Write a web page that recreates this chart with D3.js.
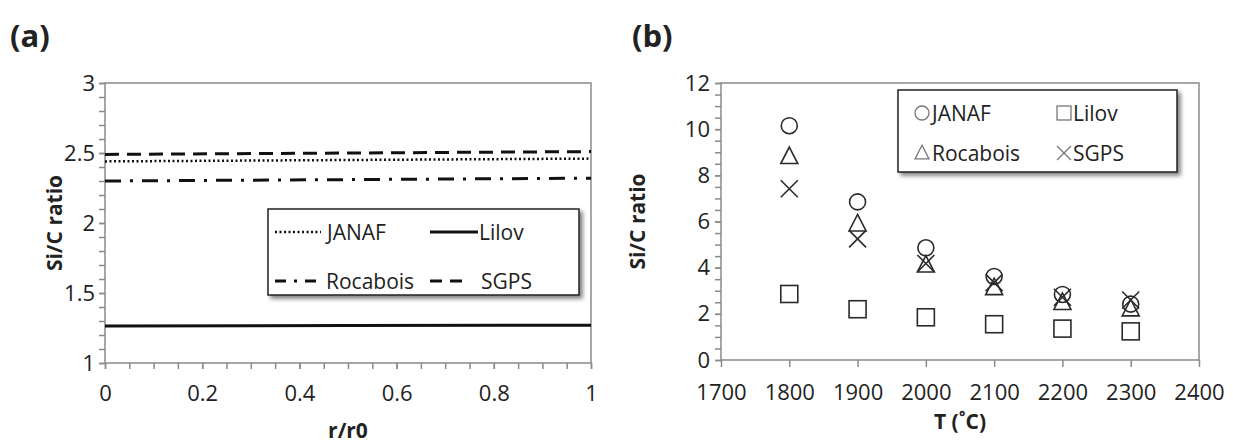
<!DOCTYPE html>
<html><head><meta charset="utf-8">
<script src="https://cdn.jsdelivr.net/npm/d3@7"></script>
<style>
body{margin:0;background:#fff;}
text{font-family:"Open Sans",sans-serif;fill:#222;}
</style></head>
<body>
<svg id="c" width="1233" height="445"></svg>
<script>
// ---- Data panel (a)
const rPos = [0, 0.5, 1];
const janafA = [2.44, 2.45, 2.46];
const lilovA = [1.264, 1.267, 1.27];
const rocaboisA = [2.30, 2.31, 2.32];
const sgpsA = [2.49, 2.50, 2.51];
const aXTicks = [0, 0.2, 0.4, 0.6, 0.8, 1];
const aYTicks = [1, 1.5, 2, 2.5, 3];
// ---- Data panel (b)
const temps = [1800, 1900, 2000, 2100, 2200, 2300];
const janafB = [10.15, 6.85, 4.86, 3.62, 2.84, 2.42];
const lilovB = [2.86, 2.2, 1.85, 1.55, 1.36, 1.24];
const rocaboisB = [8.82, 5.9, 4.12, 3.14, 2.5, 2.22];
const sgpsB = [7.42, 5.25, 4.18, 3.35, 2.72, 2.6];
const bXTicks = [1700, 1800, 1900, 2000, 2100, 2200, 2300, 2400];
const bYTicks = [0, 2, 4, 6, 8, 10, 12];

const svg = d3.select("#c");
const defs = svg.append("defs");
const f = defs.append("filter").attr("id","sh").attr("x","-10%").attr("y","-10%").attr("width","130%").attr("height","140%");
f.append("feGaussianBlur").attr("in","SourceAlpha").attr("stdDeviation",2).attr("result","b");
f.append("feOffset").attr("in","b").attr("dx",3).attr("dy",3).attr("result","o");
f.append("feComponentTransfer").attr("in","o").attr("result","o2").append("feFuncA").attr("type","linear").attr("slope",0.5);
const fm = f.append("feMerge"); fm.append("feMergeNode").attr("in","o2"); fm.append("feMergeNode").attr("in","SourceGraphic");

const axisCol = "#8a8a8a";
const lineCol = "#111";
const tickFont = "22px";
const styles = {
  janaf: {dash:"2,2.5", w:2.5},
  lilov: {dash:null, w:3},
  rocabois: {dash:"16,9,3,9", w:3},
  sgps: {dash:"14,8", w:3}
};

function styleAxis(g){
  g.select(".domain").remove();
  g.attr("font-size", null).attr("font-family", null);
  g.selectAll(".tick line").attr("stroke",axisCol).attr("stroke-width",1.5);
  g.selectAll(".tick text").style("font-size",tickFont).attr("fill","#2a2a2a");
}

// ================= Panel (a)
const A = {l:105, r:591, t:83, b:363};
const xa = d3.scaleLinear().domain([0,1]).range([A.l, A.r]);
const ya = d3.scaleLinear().domain([1,3]).range([A.b, A.t]);
const ga = svg.append("g");
ga.append("g").attr("transform",`translate(${A.l},0)`)
  .call(d3.axisLeft(ya).tickValues(d3.range(1,3.001,0.1)).tickSize(6).tickFormat(""))
  .call(styleAxis);
ga.append("g").attr("transform",`translate(0,${A.b})`)
  .call(d3.axisBottom(xa).tickValues(d3.range(0,1.001,0.05)).tickSize(6).tickFormat(""))
  .call(styleAxis);
ga.append("g").attr("transform",`translate(${A.l},0)`)
  .call(d3.axisLeft(ya).tickValues(aYTicks).tickSize(6).tickPadding(4).tickFormat(d=>d3.format("")(d)))
  .call(styleAxis);
ga.append("g").attr("transform",`translate(0,${A.b})`)
  .call(d3.axisBottom(xa).tickValues(aXTicks).tickSize(6).tickPadding(16).tickFormat(d=>d3.format("")(+d.toFixed(1))))
  .call(styleAxis);
ga.append("rect").attr("x",A.l).attr("y",A.t).attr("width",A.r-A.l).attr("height",A.b-A.t)
  .attr("fill","none").attr("stroke",axisCol).attr("stroke-width",1.5);

const seriesA = [
  {k:"sgps", v:sgpsA},{k:"janaf", v:janafA},{k:"rocabois", v:rocaboisA},{k:"lilov", v:lilovA}
];
const lineA = d3.line().x((d,i)=>xa(rPos[i])).y(d=>ya(d));
seriesA.forEach(s=>{
  ga.append("path").datum(s.v).attr("d",lineA).attr("fill","none")
    .attr("stroke",lineCol).attr("stroke-width",styles[s.k].w)
    .attr("stroke-dasharray",styles[s.k].dash);
});
// legend (a)
const LA = {x:268, y:209, w:311, h:86};
const la = ga.append("g");
la.append("rect").attr("x",LA.x).attr("y",LA.y).attr("width",LA.w).attr("height",LA.h)
  .attr("fill","#fff").attr("stroke","#222").attr("stroke-width",1.5).attr("filter","url(#sh)");
const legA = [
  {k:"janaf", name:"JANAF", x1:275, x2:321, tx:327, y:232},
  {k:"lilov", name:"Lilov", x1:430, x2:478, tx:479, y:232},
  {k:"rocabois", name:"Rocabois", x1:275, x2:324, tx:326, y:281},
  {k:"sgps", name:"SGPS", x1:430, x2:466, tx:481, y:281}
];
legA.forEach(e=>{
  la.append("line").attr("x1",e.x1).attr("x2",e.x2).attr("y1",e.y).attr("y2",e.y)
    .attr("stroke",lineCol).attr("stroke-width",styles[e.k].w)
    .attr("stroke-dasharray", e.k==="rocabois" ? "11,8,3,8" : e.k==="sgps" ? "12,8" : styles[e.k].dash);
  la.append("text").attr("x",e.tx).attr("y",e.y).attr("dy","0.36em").style("font-size","21px").text(e.name);
});
// titles (a)
svg.append("text").attr("x",10).attr("y",47).style("font-size","31px").style("font-weight","bold").attr("fill","#111").text("(a)");
svg.append("text").attr("transform",`translate(62,${(A.t+A.b)/2}) rotate(-90)`).attr("text-anchor","middle")
  .style("font-size","21px").style("font-weight","bold").text("Si/C ratio");
svg.append("text").attr("x",(A.l+A.r)/2).attr("y",438).attr("text-anchor","middle")
  .style("font-size","21px").style("font-weight","bold").text("r/r0");

// ================= Panel (b)
const B = {l:721, r:1199, t:83, b:360};
const xb = d3.scaleLinear().domain([1700,2400]).range([B.l, B.r]);
const yb = d3.scaleLinear().domain([0,12]).range([B.b, B.t]);
const gb = svg.append("g");
gb.append("g").attr("transform",`translate(${B.l},0)`)
  .call(d3.axisLeft(yb).tickValues(d3.range(0,12.001,0.5)).tickSize(6).tickFormat(""))
  .call(styleAxis);
gb.append("g").attr("transform",`translate(${B.l},0)`)
  .call(d3.axisLeft(yb).tickValues(bYTicks).tickSize(6).tickPadding(5))
  .call(styleAxis);
gb.append("g").attr("transform",`translate(0,${B.b})`)
  .call(d3.axisBottom(xb).tickValues(bXTicks).tickSize(7).tickPadding(17).tickFormat(d3.format("d")))
  .call(styleAxis);
gb.append("rect").attr("x",B.l).attr("y",B.t).attr("width",B.r-B.l).attr("height",B.b-B.t)
  .attr("fill","none").attr("stroke",axisCol).attr("stroke-width",1.5);

const mk = {
  circle: (g,x,y,s)=>g.append("circle").attr("cx",x).attr("cy",y).attr("r",s/2),
  square: (g,x,y,s)=>g.append("rect").attr("x",x-s/2).attr("y",y-s/2).attr("width",s).attr("height",s),
  triangle: (g,x,y,s)=>g.append("path").attr("d",`M${x},${y-s*0.55}L${x+s/2},${y+s*0.42}L${x-s/2},${y+s*0.42}Z`),
  cross: (g,x,y,s)=>g.append("path").attr("d",`M${x-s/2},${y-s/2}L${x+s/2},${y+s/2}M${x-s/2},${y+s/2}L${x+s/2},${y-s/2}`)
};
const seriesB = [
  {name:"JANAF", v:janafB, m:"circle"},
  {name:"Lilov", v:lilovB, m:"square"},
  {name:"Rocabois", v:rocaboisB, m:"triangle"},
  {name:"SGPS", v:sgpsB, m:"cross"}
];
seriesB.forEach(s=>{
  s.v.forEach((v,i)=>{
    mk[s.m](gb, xb(temps[i]), yb(v), s.m==="circle"?16:17)
      .attr("fill","none").attr("stroke","#2a2a2a").attr("stroke-width",1.6);
  });
});
// legend (b)
const LB = {x:898, y:90, w:279, h:82};
const lb = gb.append("g");
lb.append("rect").attr("x",LB.x).attr("y",LB.y).attr("width",LB.w).attr("height",LB.h)
  .attr("fill","#fff").attr("stroke","#222").attr("stroke-width",1.5).attr("filter","url(#sh)");
const legB = [
  {i:0, mx:922, tx:932, y:113},
  {i:1, mx:1064, tx:1073, y:113},
  {i:2, mx:922, tx:932, y:153},
  {i:3, mx:1064, tx:1073, y:153}
];
legB.forEach(e=>{
  const s = seriesB[e.i];
  mk[s.m](lb, e.mx, e.y, 14).attr("fill","none").attr("stroke","#777").attr("stroke-width",1.3);
  lb.append("text").attr("x",e.tx).attr("y",e.y).attr("dy","0.36em").style("font-size","21px").text(s.name);
});
svg.append("text").attr("x",632).attr("y",47).style("font-size","31px").style("font-weight","bold").attr("fill","#111").text("(b)");
svg.append("text").attr("transform",`translate(645,${(B.t+B.b)/2}) rotate(-90)`).attr("text-anchor","middle")
  .style("font-size","21px").style("font-weight","bold").text("Si/C ratio");
svg.append("text").attr("x",(B.l+B.r)/2).attr("y",429).attr("text-anchor","middle")
  .style("font-size","21px").style("font-weight","bold").text("T (˚C)");
</script>
</body></html>
